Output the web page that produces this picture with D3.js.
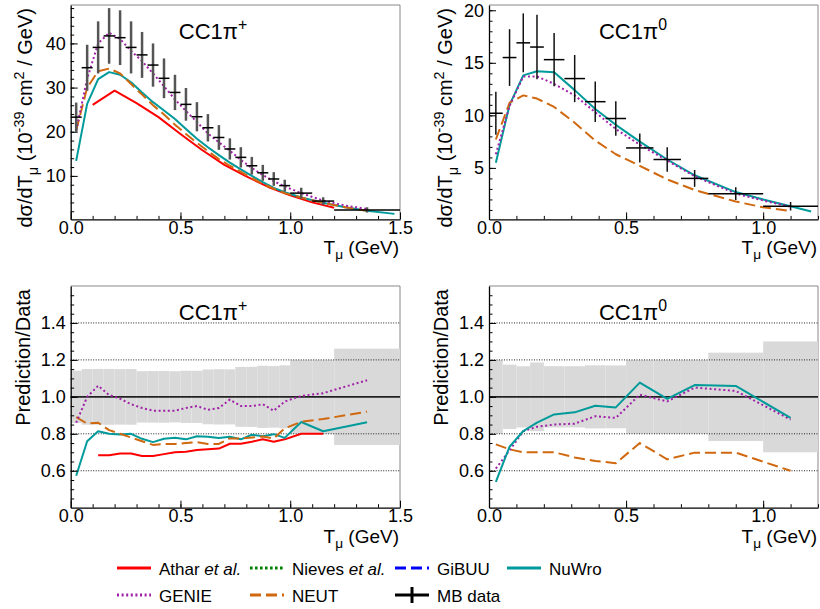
<!DOCTYPE html>
<html><head><meta charset="utf-8">
<script src="https://cdn.jsdelivr.net/npm/d3@7"></script>
<style>
body{margin:0;background:#fff}
svg{display:block}
text{font-family:"Liberation Sans",Arial,Helvetica,sans-serif;fill:#000}
</style>
</head><body>
<svg id="c" width="820" height="609"></svg>
<script>
// ---------------- DATA ----------------
// CC1pi+ (MiniBooNE) data bins
const edgesPlus = [0,0.05,0.1,0.15,0.2,0.25,0.3,0.35,0.4,0.45,0.5,0.55,0.6,0.65,0.7,0.75,0.8,0.85,0.9,0.95,1.0,1.1,1.2,1.5];
const dataPlus = [23.3,34.5,39.1,41.7,41.3,39.1,37.4,35.1,32.1,28.9,26.2,23.4,20.9,18.7,16.1,14.2,12.3,10.7,9.3,7.8,6.1,4.3,2.3];
const errPlus  = [3.3,5.2,5.9,6.3,6.2,5.9,5.2,4.9,4.5,4.0,3.7,3.3,3.1,2.8,2.4,2.3,2.0,1.8,1.55,1.33,1.22,0.86,0.6];

// CC1pi+ predictions (cross section)
const tModelPlus = [0.025,0.075,0.125,0.175,0.225,0.275,0.325,0.375,0.425,0.475,0.525,0.575,0.625,0.675,0.725,0.775,0.825,0.875,0.925,0.975,1.05,1.15,1.25,1.35,1.475];
const nuwroPlus = [13.4,26.3,31.9,33.5,32.9,31.2,28.9,26.7,24.8,22.9,20.6,18.4,16.5,14.7,13.0,11.5,10.0,8.6,7.3,6.3,5.1,3.9,2.9,2.1,1.4];
const neutPlus  = [20.3,30.0,33.7,34.3,33.2,30.8,28.4,26.0,23.9,21.6,19.5,17.5,15.6,13.8,12.3,10.9,9.5,8.2,7.1,6.1,5.1,3.9,2.9,2.1];
const geniePlus = [20.3,32.0,40.0,42.4,41.0,38.3,36.0,33.2,30.3,27.3,24.7,22.2,19.6,17.6,15.7,13.6,11.8,10.2,8.8,7.6,6.1,4.4,3.3,2.5];
const tAtharPlus = [0.1,0.2,0.3,0.4,0.5,0.6,0.7,0.8,0.9,1.0,1.1,1.2];
const atharPlus  = [26.1,29.3,26.5,23.3,19.5,15.8,12.5,9.9,7.5,5.6,4.0,2.8];

// CC1pi+ prediction / data
const genieRatioPlus = [0.86,1.00,1.06,1.01,0.99,0.96,0.94,0.925,0.925,0.925,0.94,0.95,0.93,0.94,0.985,0.95,0.95,0.96,0.925,0.975,1.005,1.02,1.09];
const neutRatioPlus  = [0.89,0.855,0.86,0.82,0.80,0.78,0.76,0.74,0.745,0.745,0.75,0.755,0.745,0.745,0.775,0.775,0.78,0.785,0.775,0.83,0.865,0.88,0.92];
const nuwroRatioPlus = [0.573,0.76,0.814,0.80,0.796,0.80,0.773,0.755,0.773,0.778,0.77,0.787,0.784,0.777,0.784,0.77,0.795,0.787,0.798,0.778,0.864,0.814,0.862];
const tAtharRatioPlus = [0.125,0.175,0.225,0.275,0.325,0.375,0.425,0.475,0.525,0.575,0.625,0.675,0.725,0.775,0.825,0.875,0.925,0.975,1.05,1.15];
const atharRatioPlus  = [0.684,0.684,0.693,0.693,0.68,0.68,0.69,0.70,0.703,0.712,0.716,0.72,0.746,0.746,0.757,0.77,0.757,0.77,0.80,0.80];

// CC1pi0 data bins
const edgesPi0 = [0,0.05,0.1,0.15,0.2,0.275,0.35,0.425,0.5,0.6,0.7,0.8,1.0,1.2];
const dataPi0  = [10.2,15.5,16.9,16.5,15.3,13.5,11.3,9.7,6.9,5.8,4.0,2.55,1.35];
const errPi0   = [2.04,2.7,2.8,3.07,2.54,2.24,1.93,1.65,1.38,1.16,0.8,0.61,0.405];

// CC1pi0 predictions
const tModelPi0 = [0.025,0.075,0.125,0.175,0.2375,0.3125,0.3875,0.4625,0.55,0.65,0.75,0.9,1.0,1.1,1.175];
const nuwroPi0 = [5.5,11.0,13.8,14.2,14.1,12.4,10.6,9.1,7.5,5.8,4.3,2.7,2.0,1.35,0.85];
const geniePi0 = [6.3,10.9,13.7,13.7,13.0,11.9,10.3,8.7,7.2,5.7,4.2,2.55,1.9,1.3];
const neutPi0  = [7.7,11.2,11.9,11.6,10.8,9.3,7.6,6.3,5.2,3.9,2.9,1.8,1.25,0.9];

// CC1pi0 prediction / data
const nuwroRatioPi0 = [0.54,0.73,0.815,0.86,0.905,0.916,0.952,0.943,1.077,0.989,1.064,1.059,0.886];
const genieRatioPi0 = [0.612,0.71,0.814,0.838,0.85,0.855,0.895,0.886,1.012,0.975,1.05,1.032,0.877];
const neutRatioPi0  = [0.743,0.716,0.70,0.70,0.70,0.672,0.653,0.641,0.75,0.662,0.698,0.698,0.60];

// tick labels
const xTicksPlus = [0, 0.5, 1.0, 1.5];
const xTicksPi0 = [0, 0.5, 1.0];
const yTicksPlus = [10, 20, 30, 40];
const yTicksPi0 = [5, 10, 15, 20];
const yTicksRatio = [0.6, 0.8, 1.0, 1.2, 1.4];
const gridRatio = [0.6, 0.8, 1.2, 1.4];

const legendLabels = [["Athar ","et al."],["Nieves ","et al."],["GiBUU",""],["NuWro",""],["GENIE",""],["NEUT",""],["MB data",""]];
const legendKeys = ["athar","nieves","gibuu","nuwro","genie","neut","data"];

// ---------------- STYLE ----------------
const COL = {athar:'#ff0000', nieves:'#008000', gibuu:'#0000ff', nuwro:'#009a9a', genie:'#a020a8', neut:'#d0680f', data:'#000'};
const DASH = {athar:null, nuwro:null, data:null, genie:'2,2.6', nieves:'2.6,2.4', neut:'11,5', gibuu:'11,5'};

const svg = d3.select('#c');
const centers = e => e.slice(1).map((v,i)=>(v+e[i])/2);
const range = (a,b,s) => { const r=[]; for(let v=a; v<=b+1e-9; v+=s) r.push(+v.toFixed(4)); return r; };

function rich(sel, parts, size){
  let shift = 0;
  parts.forEach(([t,k])=>{
    const ts = sel.append('tspan').text(t);
    const target = k==='sub' ? 0.28*size : (k==='sup' ? -0.42*size : 0);
    ts.attr('dy', target - shift); shift = target;
    if(k==='sub'||k==='sup') ts.attr('font-size', size*0.72);
    if(k==='it') ts.attr('font-style','italic');
  });
}

function makePanel(o){
  const x = d3.scaleLinear().domain(o.xd).range([o.l,o.r]);
  const y = d3.scaleLinear().domain(o.yd).range([o.b,o.t]);
  const g = svg.append('g');
  return {x,y,g,o};
}

function frame(p){
  const {g,o} = p;
  g.append('path').attr('d',`M${o.l},${o.t}H${o.r}V${o.b}`).attr('fill','none').attr('stroke','#888').attr('stroke-width',1);
}

function axes(p, xt, xMinor, yt, yMinor, yfmt){
  const {x,y,g,o} = p;
  const style = s => { s.select('.domain').attr('stroke','#000').attr('stroke-width',1.3);
    s.selectAll('line').attr('stroke','#000').attr('stroke-width',1);
    s.selectAll('text').attr('font-size',18).attr('font-family','"Liberation Sans",Arial,sans-serif').attr('fill','#000'); };
  g.append('g').attr('transform',`translate(0,${o.b})`)
    .call(d3.axisBottom(x).tickValues(xMinor).tickSize(-3.5).tickFormat(''))
    .call(s=>s.select('.domain').remove()).call(style);
  g.append('g').attr('transform',`translate(0,${o.b})`)
    .call(d3.axisBottom(x).tickValues(xt).tickSizeInner(-7).tickSizeOuter(0).tickPadding(2).tickFormat(d3.format('.1f')))
    .call(style);
  g.append('g').attr('transform',`translate(${o.l},0)`)
    .call(d3.axisLeft(y).tickValues(yMinor).tickSize(-3.5).tickFormat(''))
    .call(s=>s.select('.domain').remove()).call(style);
  g.append('g').attr('transform',`translate(${o.l},0)`)
    .call(d3.axisLeft(y).tickValues(yt).tickSizeInner(-7).tickSizeOuter(0).tickPadding(5).tickFormat(yfmt))
    .call(style);
}

function curve(p, ts, vs, key){
  const line = d3.line().x(d=>p.x(d[0])).y(d=>p.y(d[1]));
  p.g.append('path').datum(d3.zip(ts, vs)).attr('d', line)
    .attr('fill','none').attr('stroke', COL[key]).attr('stroke-width', 2)
    .attr('stroke-dasharray', DASH[key]).attr('stroke-linejoin','round');
}

function dataPoints(p, edges, vals, errs, vcol, vw){
  const c = centers(edges);
  const g = p.g.append('g');
  vals.forEach((v,i)=>{
    g.append('line').attr('x1',p.x(c[i])).attr('x2',p.x(c[i])).attr('y1',p.y(v-errs[i])).attr('y2',p.y(v+errs[i]))
      .attr('stroke',vcol).attr('stroke-width',vw);
    g.append('line').attr('x1',p.x(edges[i])).attr('x2',p.x(edges[i+1])).attr('y1',p.y(v)).attr('y2',p.y(v))
      .attr('stroke','#000').attr('stroke-width',1.5);
  });
}

function band(p, edges, vals, errs){
  vals.forEach((v,i)=>{
    const r = errs[i]/v;
    p.g.append('rect').attr('x',p.x(edges[i])).attr('width',p.x(edges[i+1])-p.x(edges[i]))
      .attr('y',p.y(1+r)).attr('height',p.y(1-r)-p.y(1+r)).attr('fill','#d9d9d9');
  });
}

function ratioGrid(p){
  gridRatio.forEach(v=>{
    p.g.append('line').attr('x1',p.o.l).attr('x2',p.o.r).attr('y1',p.y(v)).attr('y2',p.y(v))
      .attr('stroke','#222').attr('stroke-width',1).attr('stroke-dasharray','1,1.5');
  });
  p.g.append('line').attr('x1',p.o.l).attr('x2',p.o.r).attr('y1',p.y(1)).attr('y2',p.y(1))
    .attr('stroke','#222').attr('stroke-width',1.6);
}

function title(p, cx, by, sup){
  const t = p.g.append('text').attr('x',cx).attr('y',by).attr('text-anchor','middle').attr('font-size',22);
  rich(t, [["CC1π",""],[sup,"sup"]], 22);
}
function yTitle(p, bx, parts){
  const t = p.g.append('text').attr('transform',`translate(${bx},${p.o.t+3}) rotate(-90)`)
    .attr('text-anchor','end').attr('font-size',20);
  rich(t, parts, 20);
}
function xTitle(p, by){
  const t = p.g.append('text').attr('x',p.o.r-1).attr('y',by).attr('text-anchor','end').attr('font-size',19);
  rich(t, [["T",""],["μ","sub"],[" (GeV)",""]], 19);
}
const xsecTitle = [["dσ/dT",""],["μ","sub"],[" (10",""],["-39","sup"],[" cm",""],["2","sup"],[" / GeV)",""]];
const fmtInt = d3.format('d'), fmt1 = d3.format('.1f');

// ---------------- PANELS ----------------
const TL = makePanel({l:70.7, r:400, t:5, b:219.4, xd:[0,1.5], yd:[0.15,48.7]});
const TR = makePanel({l:489, r:818, t:5, b:219.4, xd:[0,1.2], yd:[0.1,20.5]});
const BL = makePanel({l:70.7, r:400, t:286, b:507.7, xd:[0,1.5], yd:[0.4,1.6]});
const BR = makePanel({l:489, r:818, t:286, b:507.7, xd:[0,1.2], yd:[0.4,1.6]});

// Top-left
frame(TL);
curve(TL, tAtharPlus, atharPlus, 'athar');
curve(TL, tModelPlus, nuwroPlus, 'nuwro');
curve(TL, tModelPlus, neutPlus, 'neut');
curve(TL, tModelPlus, geniePlus, 'genie');
dataPoints(TL, edgesPlus, dataPlus, errPlus, '#555', 2.5);
axes(TL, xTicksPlus, range(0.1,1.4,0.1), yTicksPlus, range(2,48,2), fmtInt);
title(TL, 213, 39, "+");
yTitle(TL, 32, xsecTitle);
xTitle(TL, 253.5);

// Top-right
frame(TR);
curve(TR, tModelPi0, nuwroPi0, 'nuwro');
curve(TR, tModelPi0, neutPi0, 'neut');
curve(TR, tModelPi0, geniePi0, 'genie');
dataPoints(TR, edgesPi0, dataPi0, errPi0, '#111', 1.5);
axes(TR, xTicksPi0, range(0.1,1.2,0.1), yTicksPi0, range(1,20,1), fmtInt);
title(TR, 633, 39, "0");
yTitle(TR, 452, xsecTitle);
xTitle(TR, 253.5);

// Bottom-left
frame(BL);
band(BL, edgesPlus, dataPlus, errPlus);
ratioGrid(BL);
const cPlus = centers(edgesPlus);
curve(BL, tAtharRatioPlus, atharRatioPlus, 'athar');
curve(BL, cPlus, nuwroRatioPlus, 'nuwro');
curve(BL, cPlus, neutRatioPlus, 'neut');
curve(BL, cPlus, genieRatioPlus, 'genie');
axes(BL, xTicksPlus, range(0.1,1.4,0.1), yTicksRatio, range(0.45,1.55,0.05), fmt1);
title(BL, 213, 320, "+");
yTitle(BL, 30, [["Prediction/Data",""]]);
xTitle(BL, 542.5);

// Bottom-right
frame(BR);
band(BR, edgesPi0, dataPi0, errPi0);
ratioGrid(BR);
const cPi0 = centers(edgesPi0);
curve(BR, cPi0, neutRatioPi0, 'neut');
curve(BR, cPi0, genieRatioPi0, 'genie');
curve(BR, cPi0, nuwroRatioPi0, 'nuwro');
axes(BR, xTicksPi0, range(0.1,1.2,0.1), yTicksRatio, range(0.45,1.55,0.05), fmt1);
title(BR, 633, 320, "0");
yTitle(BR, 448, [["Prediction/Data",""]]);
xTitle(BR, 542.5);

// ---------------- LEGEND ----------------
const legPos = [[117,568],[250,568],[395,568],[507,568],[117,595],[250,595],[395,595]];
const lg = svg.append('g');
legendKeys.forEach((k,i)=>{
  const [lx,ly] = legPos[i];
  const len = 34;
  lg.append('line').attr('x1',lx).attr('x2',lx+len).attr('y1',ly).attr('y2',ly)
    .attr('stroke',COL[k]).attr('stroke-width',3).attr('stroke-dasharray',DASH[k]);
  if(k==='data'){
    lg.append('line').attr('x1',lx+len/2).attr('x2',lx+len/2).attr('y1',ly-8).attr('y2',ly+8)
      .attr('stroke','#000').attr('stroke-width',3);
  }
  const t = lg.append('text').attr('x',lx+len+8).attr('y',ly+6.5).attr('font-size',17);
  t.append('tspan').text(legendLabels[i][0]);
  if(legendLabels[i][1]) t.append('tspan').attr('font-style','italic').text(legendLabels[i][1]);
});
</script>
</body></html>
